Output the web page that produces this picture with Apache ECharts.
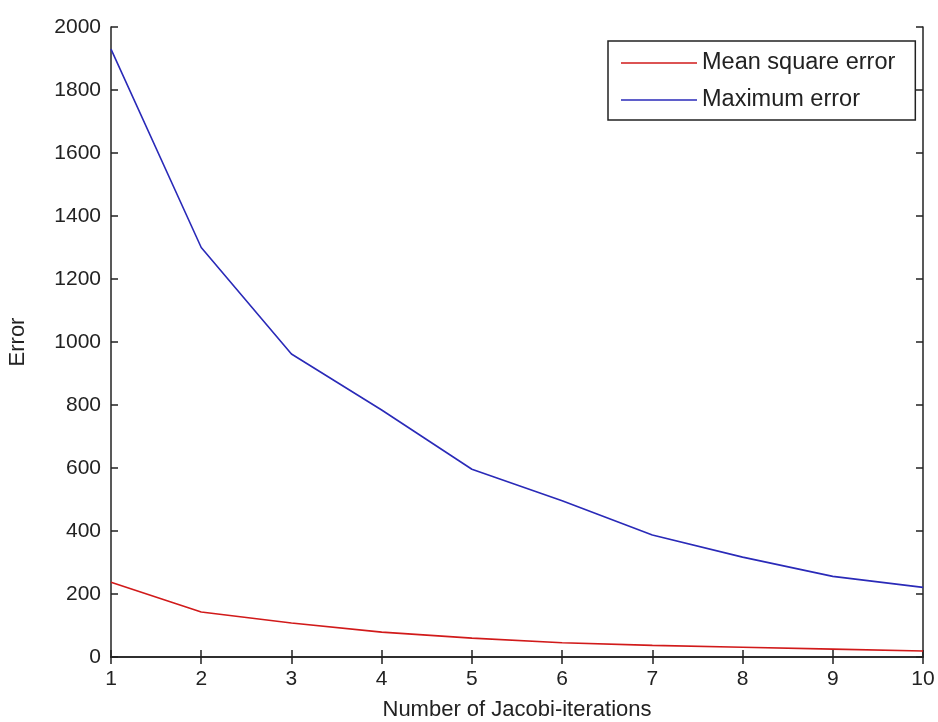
<!DOCTYPE html>
<html>
<head>
<meta charset="utf-8">
<script src="https://cdn.jsdelivr.net/npm/echarts@6/dist/echarts.min.js"></script>
<style>
  html, body { margin: 0; padding: 0; background: #fff; }
  #chart { width: 938px; height: 722px; }
</style>
</head>
<body>
<div id="chart"></div>
<script>
const iterations = [1, 2, 3, 4, 5, 6, 7, 8, 9, 10]
const meanSquareError = [237, 143, 108, 79, 60, 45, 37, 31, 25, 19]
const maximumError = [1930, 1300, 962, 784, 596, 496, 387, 317, 256, 221]
const yTicks = [0, 200, 400, 600, 800, 1000, 1200, 1400, 1600, 1800, 2000]

const font = "'Liberation Sans', Arial, sans-serif"
const ink = '#222'

const boxAxis = {
  axisLine: { show: true, lineStyle: { color: ink, width: 1.5 } },
  axisTick: { show: true, inside: true, length: 7, lineStyle: { color: ink, width: 1.5 } },
  splitLine: { show: false }
}

const chart = echarts.init(document.getElementById('chart'))
chart.setOption({
  animation: false,
  backgroundColor: '#fff',
  textStyle: { fontFamily: font },
  grid: { left: 111, right: 15, top: 27, bottom: 65, outerBoundsMode: 'none', containLabel: false },
  legend: {
    orient: 'vertical',
    left: 608,
    top: 41,
    padding: [10, 20, 8, 13],
    borderColor: ink,
    borderWidth: 1.5,
    backgroundColor: '#fff',
    icon: 'rect',
    itemWidth: 76,
    itemHeight: 1.5,
    itemGap: 13,
    textStyle: { fontFamily: font, fontSize: 23.5, color: ink, lineHeight: 23 },
    data: ['Mean square error', 'Maximum error']
  },
  xAxis: [
    Object.assign({
      type: 'value', min: 1, max: 10, interval: 1,
      name: 'Number of Jacobi-iterations',
      nameLocation: 'middle', nameGap: 42,
      nameTextStyle: { fontFamily: font, fontSize: 22, color: ink },
      axisLabel: { fontFamily: font, fontSize: 21, color: ink, margin: 12 }
    }, boxAxis),
    Object.assign({
      type: 'value', min: 1, max: 10, interval: 1, position: 'top',
      axisLabel: { show: false }
    }, boxAxis)
  ],
  yAxis: [
    Object.assign({
      type: 'value', min: yTicks[0], max: yTicks[yTicks.length - 1], interval: 200,
      name: 'Error',
      nameLocation: 'middle', nameGap: 82,
      nameTextStyle: { fontFamily: font, fontSize: 22, color: ink },
      axisLabel: { fontFamily: font, fontSize: 21, color: ink, margin: 10, formatter: (v) => String(v) }
    }, boxAxis),
    Object.assign({
      type: 'value', min: yTicks[0], max: yTicks[yTicks.length - 1], interval: 200, position: 'right',
      axisLabel: { show: false }
    }, boxAxis)
  ],
  series: [
    {
      name: 'Mean square error',
      type: 'line',
      symbol: 'none',
      color: '#d11a1a',
      lineStyle: { width: 1.6, color: '#d11a1a' },
      data: iterations.map((x, i) => [x, meanSquareError[i]])
    },
    {
      name: 'Maximum error',
      type: 'line',
      symbol: 'none',
      color: '#2a2ab8',
      lineStyle: { width: 1.6, color: '#2a2ab8' },
      data: iterations.map((x, i) => [x, maximumError[i]])
    }
  ]
})
</script>
</body>
</html>
